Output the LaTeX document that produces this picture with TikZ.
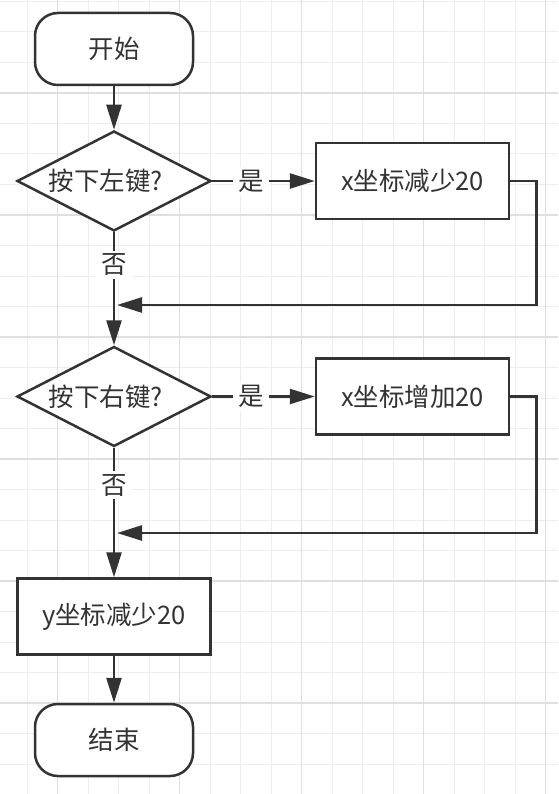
\documentclass[tikz,border=0pt]{standalone}
\usepackage{fontspec}
\setmainfont{Noto Sans CJK SC}
\usetikzlibrary{shapes.geometric,arrows.meta}
\definecolor{ink}{HTML}{333333}
\definecolor{gridminor}{HTML}{EDEDED}
\definecolor{gridmajor}{HTML}{DFDFDF}
\begin{document}
\begin{tikzpicture}[x=1pt,y=-1pt,
  txt/.style={text=ink, font=\fontsize{25.5}{30}\selectfont},
  base/.style={draw=ink, line width=2.5pt, fill=white, inner sep=0pt, txt},
  term/.style={base, rectangle, rounded corners=23pt, minimum width=158pt, minimum height=72pt},
  proc/.style={base, rectangle, minimum width=193pt, minimum height=76pt},
  dec/.style={base, diamond, aspect=1.94, minimum width=194pt, minimum height=100pt},
  lbl/.style={fill=white, inner xsep=5pt, inner ysep=3pt, txt},
  ln/.style={draw=ink, line width=2.5pt},
  arr/.style={ln, -{Triangle[length=25pt,width=15pt]}},
  gminor/.style={draw=gridminor, line width=1pt},
  gmajor/.style={draw=gridmajor, line width=1.3pt}
]
\useasboundingbox (0,0) rectangle (558,794);
\fill[white] (0,0) rectangle (558,794);
% grid
\foreach \i in {0,...,19} \draw[gminor] ({-3.5+30.5*\i},0) -- ({-3.5+30.5*\i},794);
\foreach \j in {-1,...,25} \draw[gminor] (0,{32+30.5*\j}) -- (558,{32+30.5*\j});
\foreach \i in {0,...,4} \draw[gmajor] ({57.5+122*\i},0) -- ({57.5+122*\i},794);
\foreach \j in {0,...,5} \draw[gmajor] (0,{93+122*\j}) -- (558,{93+122*\j});

% nodes
\node[term] (start) at (114,49) {开始};
\node[dec] (d1) at (114,181) {};
\node[txt] (t1) at (106,181) {按下左键?};
\node[proc] (b1) at (412.5,181) {x坐标减少20};
\node[dec] (d2) at (114,396.5) {};
\node[txt] (t2) at (106,396.5) {按下右键?};
\node[proc] (b2) at (412.5,396.5) {x坐标增加20};
\node[proc] (b3) at (114,616.5) {y坐标减少20};
\node[term] (stop) at (114,740) {结束};
\coordinate (j1) at (117,305);
\coordinate (j2) at (117,533);

% connectors
\draw[arr] (start) -- (d1);
\draw[arr] (d1.east) -- node[lbl, pos=0.38] (y1) {是} (b1.west);
\draw[arr] (d1.south) -- node[lbl, pos=0.29] (n1) {否} (d2.north);
\draw[arr] (b1.east) -- ++(26,0) |- (j1);
\draw[arr] (d2.east) -- node[lbl, pos=0.38] (y2) {是} (b2.west);
\draw[arr] (d2.south) -- node[lbl, pos=0.29] (n2) {否} (b3.north);
\draw[arr] (b2.east) -- ++(26,0) |- (j2);
\draw[arr] (b3) -- (stop);
\end{tikzpicture}
\end{document}
